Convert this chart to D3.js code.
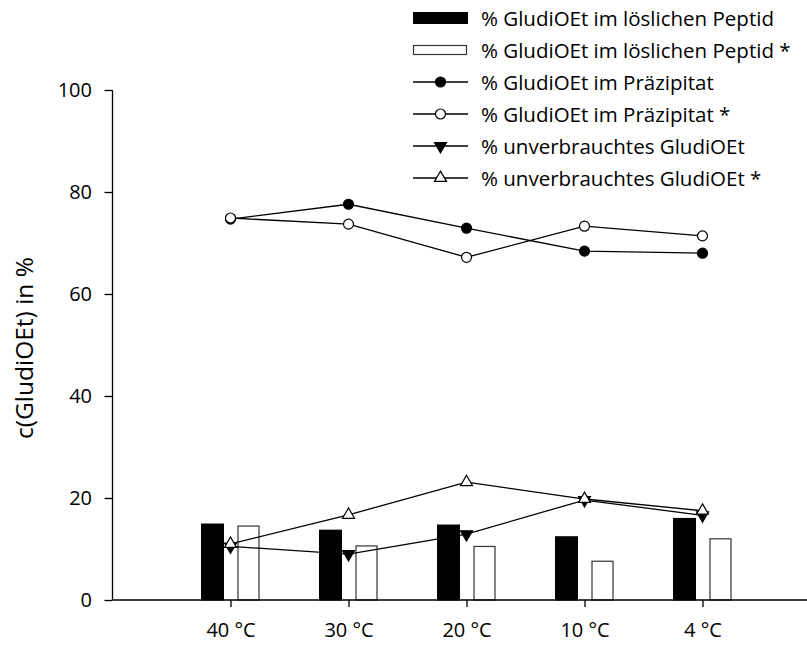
<!DOCTYPE html>
<html>
<head>
<meta charset="utf-8">
<script src="https://cdn.jsdelivr.net/npm/d3@7"></script>
<style>
  html, body { margin: 0; padding: 0; background: #fff; }
  svg { display: block; font-family: "Open Sans", sans-serif; }
</style>
</head>
<body>
<svg id="chart" width="807" height="645"></svg>
<script>
// Temperatures along the x axis
const categories = ["40 °C", "30 °C", "20 °C", "10 °C", "4 °C"];

// Bar series (percent)
const peptid       = [14.9, 13.7, 14.7, 12.4, 16.0];
const peptidStar   = [14.5, 10.6, 10.5, 7.6, 12.0];

// Line series (percent)
const praezipitat      = [74.7, 77.6, 72.9, 68.4, 68.0];
const praezipitatStar  = [74.9, 73.7, 67.2, 73.3, 71.4];
const unverbraucht     = [10.5, 9.0, 12.9, 19.6, 16.6];
const unverbrauchtStar = [11.0, 16.7, 23.1, 19.8, 17.5];

const yTicks = [0, 20, 40, 60, 80, 100];
const yLabel = "c(GludiOEt) in %";

const legendLabels = [
  "% GludiOEt im löslichen Peptid",
  "% GludiOEt im löslichen Peptid *",
  "% GludiOEt im Präzipitat",
  "% GludiOEt im Präzipitat *",
  "% unverbrauchtes GludiOEt",
  "% unverbrauchtes GludiOEt *"
];

const svg = d3.select("#chart");
const fontFamily = "'Open Sans', sans-serif";
const tickFont = 20, legendFont = 20.5, titleFont = 24.5;

const x0 = 112.5, yTop = 90, yBottom = 600;
const step = 118;

const x = d3.scaleLinear().domain([0, 6]).range([x0, x0 + 6 * step]);
const y = d3.scaleLinear().domain([0, 100]).range([yBottom, yTop]);

const barW = 22, barGap = 7;

// Bars
const g = svg.append("g");
g.selectAll("rect.solid").data(peptid).join("rect")
  .attr("class", "solid")
  .attr("x", (d, i) => x(i + 1) - barGap - barW)
  .attr("y", d => y(d))
  .attr("width", barW)
  .attr("height", d => y(0) - y(d))
  .attr("fill", "#000")
  .attr("stroke", "#000")
  .attr("stroke-width", 1);

g.selectAll("rect.hollow").data(peptidStar).join("rect")
  .attr("class", "hollow")
  .attr("x", (d, i) => x(i + 1) + barGap + 0.5)
  .attr("y", d => y(d))
  .attr("width", barW - 1)
  .attr("height", d => y(0) - y(d))
  .attr("fill", "#fff")
  .attr("stroke", "#333")
  .attr("stroke-width", 1.2);

// Axes
const yAxis = d3.axisLeft(y).tickValues(yTicks).tickSize(8).tickPadding(12.5);
const gy = svg.append("g").attr("transform", `translate(${x0},0)`).call(yAxis);
gy.select(".domain").attr("d", `M0,${yTop}V${yBottom}`).attr("stroke-width", 1.3);
gy.selectAll(".tick line").attr("stroke-width", 1.3);
gy.selectAll("text").attr("font-size", tickFont).attr("font-family", fontFamily).attr("fill", "#000");

const xAxis = d3.axisBottom(x).tickValues([1, 2, 3, 4, 5])
  .tickFormat(d => categories[d - 1]).tickSize(7).tickPadding(16);
const gx = svg.append("g").attr("transform", `translate(0,${yBottom})`).call(xAxis);
gx.select(".domain").attr("d", `M${x0},0H${x0 + 6 * step}`).attr("stroke-width", 1.3);
gx.selectAll(".tick line").attr("stroke-width", 1.3);
gx.selectAll("text").attr("font-size", tickFont).attr("font-family", fontFamily).attr("fill", "#000");

// Axis title
svg.append("text")
  .attr("transform", `translate(33,348) rotate(-90)`)
  .attr("text-anchor", "middle")
  .attr("font-size", titleFont)
  .text(yLabel);

// Lines with markers
const line = d3.line().x((d, i) => x(i + 1)).y(d => y(d));
const circleSym = d3.symbol().type(d3.symbolCircle).size(Math.PI * 25);
const triSym = d3.symbol().type(d3.symbolTriangle).size(62);

const series = [
  { values: praezipitat, shape: "circle", fill: "#000", flip: false },
  { values: unverbraucht, shape: "triangle", fill: "#000", flip: true },
  { values: praezipitatStar, shape: "circle", fill: "#fff", flip: false },
  { values: unverbrauchtStar, shape: "triangle", fill: "#fff", flip: false }
];

series.forEach(s => {
  svg.append("path")
    .attr("d", line(s.values))
    .attr("fill", "none")
    .attr("stroke", "#000")
    .attr("stroke-width", 1.3);
  svg.selectAll(null).data(s.values).join("path")
    .attr("d", s.shape === "circle" ? circleSym() : triSym())
    .attr("transform", (d, i) => `translate(${x(i + 1)},${y(d)})${s.flip ? " rotate(180)" : ""}`)
    .attr("fill", s.fill)
    .attr("stroke", "#000")
    .attr("stroke-width", 1.2);
});

// Legend
const lx = 413, lw = 55, rowY0 = 18, rowStep = 32;
const legend = svg.append("g");
const markerOf = [null, null,
  { shape: "circle", fill: "#000", flip: false },
  { shape: "circle", fill: "#fff", flip: false },
  { shape: "triangle", fill: "#000", flip: true },
  { shape: "triangle", fill: "#fff", flip: false }];

legendLabels.forEach((label, i) => {
  const cy = rowY0 + i * rowStep;
  if (i === 0) {
    legend.append("rect").attr("x", lx).attr("y", cy - 6).attr("width", lw).attr("height", 12)
      .attr("fill", "#000");
  } else if (i === 1) {
    legend.append("rect").attr("x", lx + 0.5).attr("y", cy - 4.5).attr("width", lw - 2).attr("height", 9)
      .attr("fill", "#fff").attr("stroke", "#333").attr("stroke-width", 1.2);
  } else {
    const m = markerOf[i];
    legend.append("line").attr("x1", lx).attr("x2", lx + lw).attr("y1", cy).attr("y2", cy)
      .attr("stroke", "#000").attr("stroke-width", 1.3);
    legend.append("path")
      .attr("d", m.shape === "circle" ? circleSym() : triSym())
      .attr("transform", `translate(${lx + lw / 2},${cy})${m.flip ? " rotate(180)" : ""}`)
      .attr("fill", m.fill).attr("stroke", "#000").attr("stroke-width", 1.2);
  }
  legend.append("text")
    .attr("x", 481).attr("y", cy)
    .attr("dominant-baseline", "central")
    .attr("font-size", legendFont)
    .text(label);
});
</script>
</body>
</html>
